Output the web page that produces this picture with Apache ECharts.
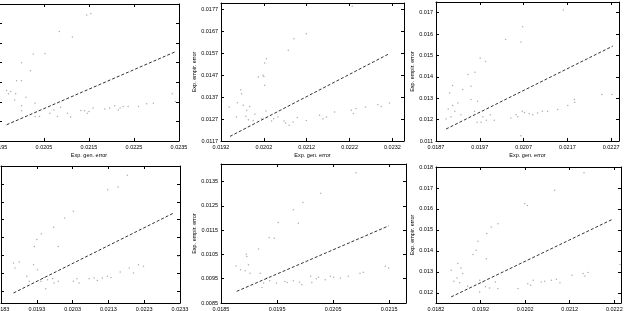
<!DOCTYPE html>
<html>
<head>
<meta charset="utf-8">
<script src="https://cdn.jsdelivr.net/npm/echarts@6/dist/echarts.min.js"></script>
<style>
html, body { margin: 0; padding: 0; background: #fff; }
#chart { width: 628px; height: 311px; }
</style>
</head>
<body>
<div id="chart"></div>
<script>
var xName = "Exp. gen. error";
var yName = "Exp. empir. error";

// panel 1 (top left)
var p1Points = [[0.02145,0.01744],[0.02154,0.01751],[0.02084,0.01659],[0.02113,0.01632],[0.02026,0.01544],[0.02052,0.01547],
  [0.0200,0.0150],[0.0202,0.01459],[0.01989,0.01408],[0.0200,0.01408],[0.01967,0.01358],[0.01976,0.01353],[0.01971,0.01341],
  [0.01987,0.01341],[0.0201,0.01324],[0.01985,0.0131],[0.0203,0.01293],[0.0200,0.0128],[0.0200,0.01254],[0.0203,0.01225],
  [0.0204,0.01225],[0.02063,0.01242],[0.02072,0.01259],[0.0208,0.01225],[0.02087,0.01273],[0.02102,0.01242],[0.02109,0.01222],
  [0.02132,0.01256],[0.0214,0.01254],[0.02146,0.01242],[0.0215,0.01251],[0.02159,0.01268],[0.02185,0.01263],[0.02196,0.01268],
  [0.02207,0.0128],[0.02215,0.01259],[0.02219,0.01268],[0.02226,0.01276],[0.02237,0.01276],[0.0226,0.01276],[0.02278,0.0129],
  [0.02293,0.01293],[0.02335,0.01341],[0.02342,0.01302]];
var p1Line = [[0.01967,0.01183],[0.02342,0.01556]];
var p1XTicks = [0.0195,0.0205,0.0215,0.0225,0.0235];
var p1YTicks = [0.011,0.012,0.013,0.014,0.015,0.016,0.017];

// panel 2 (top middle)
var p2Points = [[0.02226,0.01785],[0.02119,0.0166],[0.0209,0.01637],[0.02077,0.01584],[0.02026,0.01546],[0.02022,0.01526],
  [0.02018,0.0147],[0.02007,0.01462],[0.0202,0.01465],[0.02022,0.01424],[0.01966,0.01404],[0.01968,0.01386],[0.01958,0.01345],
  [0.01972,0.01333],[0.01939,0.01325],[0.01987,0.01328],[0.0198,0.0131],[0.01956,0.0128],[0.01978,0.01283],[0.01984,0.01267],
  [0.01999,0.01292],[0.02025,0.01307],[0.01995,0.01264],[0.02015,0.01272],[0.02026,0.01277],[0.02038,0.01261],[0.02043,0.01272],
  [0.02053,0.0128],[0.02067,0.01261],[0.02071,0.01252],[0.02079,0.01242],[0.02088,0.01257],[0.02098,0.01277],[0.02119,0.01264],
  [0.0215,0.01287],[0.02158,0.01272],[0.02166,0.0128],[0.02185,0.01302],[0.02224,0.0131],[0.02229,0.01295],[0.02235,0.01318],
  [0.02257,0.01325],[0.02286,0.01337],[0.02294,0.01328],[0.02313,0.01343]];
var p2Line = [[0.01941,0.01191],[0.02313,0.01569]];
var p2XTicks = [0.0192,0.0202,0.0212,0.0222,0.0232];
var p2YTicks = [0.0117,0.0127,0.0137,0.0147,0.0157,0.0167,0.0177];

// panel 3 (top right)
var p3Points = [[0.02161,0.01713],[0.02068,0.01634],[0.02064,0.01563],[0.02029,0.01575],[0.01971,0.01488],[0.01983,0.01472],
  [0.01959,0.01422],[0.01943,0.01411],[0.0195,0.01356],[0.01931,0.01341],[0.01908,0.01359],[0.01901,0.01325],[0.0192,0.01278],
  [0.01908,0.01266],[0.01913,0.01239],[0.01898,0.0125],[0.0195,0.01294],[0.01958,0.01239],[0.01965,0.01286],[0.01893,0.01203],
  [0.01904,0.01213],[0.01927,0.01223],[0.01964,0.01188],[0.01973,0.01188],[0.01977,0.01213],[0.01985,0.01197],[0.01994,0.01223],
  [0.02003,0.01197],[0.02041,0.01208],[0.02053,0.01223],[0.02057,0.01213],[0.02067,0.01239],[0.02072,0.01233],[0.02083,0.01228],
  [0.02091,0.01223],[0.02102,0.01231],[0.02113,0.01239],[0.02125,0.01239],[0.02148,0.01247],[0.02171,0.01266],[0.02186,0.01294],
  [0.02187,0.01281],[0.02249,0.01317],[0.02272,0.01317],[0.02064,0.01125]];
var p3Line = [[0.01893,0.01156],[0.02274,0.01544]];
var p3XTicks = [0.0187,0.0197,0.0207,0.0217,0.0227];
var p3YTicks = [0.011,0.012,0.013,0.014,0.015,0.016,0.017];

// panel 4 (bottom left)
var p4Points = [[0.02183,0.01748],[0.02157,0.01683],[0.02128,0.01668],[0.02032,0.01547],[0.02008,0.0151],[0.01977,0.01458],
  [0.01943,0.01422],[0.0193,0.01389],[0.01923,0.01351],[0.0199,0.01351],[0.01865,0.01258],[0.01881,0.01264],[0.01869,0.0123],
  [0.01921,0.01249],[0.01932,0.01221],[0.01902,0.01184],[0.01909,0.01156],[0.0195,0.01178],[0.0196,0.01165],[0.01941,0.01156],
  [0.01955,0.01115],[0.01974,0.01171],[0.0199,0.01156],[0.01978,0.01147],[0.02032,0.01156],[0.02042,0.01171],[0.02048,0.01147],
  [0.02076,0.01171],[0.0209,0.01174],[0.02099,0.0116],[0.02113,0.01174],[0.02127,0.01184],[0.02137,0.01178],[0.02163,0.01208],
  [0.02188,0.0123],[0.022,0.01202],[0.02214,0.01249],[0.02228,0.0124],[0.02325,0.01296]];
var p4Line = [[0.01865,0.01091],[0.02313,0.01538]];
var p4XTicks = [0.0183,0.0193,0.0203,0.0213,0.0223,0.0233];
var p4YTicks = [0.011,0.012,0.013,0.014,0.015,0.016,0.017];

// panel 5 (bottom middle)
var p5Points = [[0.02091,0.01387],[0.02028,0.01302],[0.01996,0.01264],[0.01979,0.01234],[0.01988,0.01179],[0.01952,0.01182],
  [0.01936,0.0112],[0.01945,0.01117],[0.01917,0.01073],[0.01895,0.01051],[0.01896,0.01042],[0.01877,0.01003],[0.01885,0.00987],
  [0.01893,0.00983],[0.01899,0.01008],[0.01902,0.00973],[0.0192,0.00973],[0.01926,0.00932],[0.01932,0.00953],[0.01923,0.00914],
  [0.01937,0.00942],[0.01949,0.00932],[0.01964,0.00939],[0.01968,0.00935],[0.01979,0.00942],[0.0199,0.00936],[0.01994,0.00925],
  [0.0201,0.0096],[0.02012,0.00935],[0.0202,0.0095],[0.02024,0.00956],[0.02036,0.00946],[0.02045,0.0096],[0.02051,0.00956],
  [0.02063,0.00953],[0.02077,0.0096],[0.02098,0.00973],[0.02104,0.00977],[0.02143,0.01001],[0.02149,0.00994]];
var p5Line = [[0.01878,0.00898],[0.02149,0.01168]];
var p5XTicks = [0.0185,0.0195,0.0205,0.0215];
var p5YTicks = [0.0085,0.0095,0.0105,0.0115,0.0125,0.0135];

// panel 6 (bottom right)
var p6Points = [[0.02152,0.01773],[0.02086,0.01689],[0.02019,0.01625],[0.02025,0.01617],[0.01959,0.0153],[0.01944,0.01514],
  [0.01934,0.01483],[0.01914,0.01446],[0.0191,0.01403],[0.01903,0.01383],[0.01933,0.01363],[0.01854,0.01308],[0.01869,0.0134],
  [0.01876,0.01319],[0.0188,0.01292],[0.01867,0.01271],[0.0186,0.01256],[0.01873,0.01248],[0.01891,0.01233],[0.01918,0.0126],
  [0.01925,0.01252],[0.01931,0.01229],[0.0194,0.01224],[0.01953,0.01252],[0.01959,0.01221],[0.01918,0.01205],[0.02004,0.01221],
  [0.02026,0.01244],[0.02032,0.01237],[0.02038,0.0126],[0.02056,0.01252],[0.02064,0.01256],[0.02079,0.0126],[0.0209,0.01265],
  [0.02098,0.01249],[0.02125,0.01284],[0.0215,0.01292],[0.02154,0.01281],[0.02161,0.01297],[0.02233,0.01335]];
var p6Line = [[0.01854,0.01181],[0.02214,0.01549]];
var p6XTicks = [0.0182,0.0192,0.0202,0.0212,0.0222];
var p6YTicks = [0.012,0.013,0.014,0.015,0.016,0.017,0.018];

var panels = [
  { pts: p1Points, line: p1Line, xt: p1XTicks, yt: p1YTicks, xr: [0.0195, 0.0235], yr: [0.011, 0.018], xd: 4, yd: 3,
    box: { left: -1, top: 4, width: 180, height: 137 }, gap: 19 },
  { pts: p2Points, line: p2Line, xt: p2XTicks, yt: p2YTicks, xr: [0.0192, 0.02347], yr: [0.0117, 0.0180], xd: 4, yd: 4,
    box: { left: 221, top: 3, width: 183, height: 138 }, gap: 19 },
  { pts: p3Points, line: p3Line, xt: p3XTicks, yt: p3YTicks, xr: [0.0187, 0.02288], yr: [0.011, 0.0175], xd: 4, yd: 3,
    box: { left: 436, top: 2, width: 183, height: 139 }, gap: 16 },
  { pts: p4Points, line: p4Line, xt: p4XTicks, yt: p4YTicks, xr: [0.0183, 0.0233], yr: [0.01035, 0.0180], xd: 4, yd: 3,
    box: { left: 1, top: 166, width: 179, height: 137 }, gap: 19 },
  { pts: p5Points, line: p5Line, xt: p5XTicks, yt: p5YTicks, xr: [0.0185, 0.0218], yr: [0.0085, 0.01423], xd: 4, yd: 4,
    box: { left: 221, top: 164, width: 185, height: 139 }, gap: 19 },
  { pts: p6Points, line: p6Line, xt: p6XTicks, yt: p6YTicks, xr: [0.0182, 0.02235], yr: [0.01152, 0.0180], xd: 4, yd: 3,
    box: { left: 436, top: 167, width: 185, height: 136 }, gap: 16 }
];

var font = "Liberation Sans";
var grids = [], xAxes = [], yAxes = [], series = [];

function makeAxis(p, isX, bottomOrLeft, gridIndex) {
  var ticks = isX ? p.xt : p.yt;
  var dec = isX ? p.xd : p.yd;
  var ax = {
    type: "value",
    gridIndex: gridIndex,
    position: isX ? (bottomOrLeft ? "bottom" : "top") : (bottomOrLeft ? "left" : "right"),
    min: isX ? p.xr[0] : p.yr[0],
    max: isX ? p.xr[1] : p.yr[1],
    axisLine: { show: true, onZero: false, lineStyle: { color: "#000", width: 1 } },
    axisTick: { show: true, inside: true, length: 3, customValues: ticks, lineStyle: { color: "#000" } },
    axisLabel: {
      show: bottomOrLeft,
      customValues: ticks,
      margin: 3,
      fontSize: 5.5,
      fontFamily: font,
      color: "#000",
      formatter: function (v) { return v.toFixed(dec); }
    },
    splitLine: { show: false }
  };
  if (bottomOrLeft) {
    ax.name = isX ? xName : yName;
    ax.nameLocation = "middle";
    ax.nameGap = isX ? 11 : p.gap;
    ax.nameTextStyle = { fontSize: 5.5, fontFamily: font, color: "#000" };
  }
  return ax;
}

panels.forEach(function (p, i) {
  grids.push(Object.assign({ show: false, outerBoundsMode: "none", containLabel: false }, p.box));
  xAxes.push(makeAxis(p, true, true, i));
  xAxes.push(makeAxis(p, true, false, i));
  yAxes.push(makeAxis(p, false, true, i));
  yAxes.push(makeAxis(p, false, false, i));
  series.push({
    type: "scatter",
    xAxisIndex: 2 * i,
    yAxisIndex: 2 * i,
    data: p.pts,
    symbolSize: 1.5,
    itemStyle: { color: "#999" },
    silent: true
  });
  series.push({
    type: "line",
    xAxisIndex: 2 * i,
    yAxisIndex: 2 * i,
    data: p.line,
    symbol: "none",
    lineStyle: { color: "#333", width: 1, type: [3, 2] },
    silent: true
  });
});

var myChart = echarts.init(document.getElementById("chart"), null, { renderer: "canvas" });
myChart.setOption({
  animation: false,
  backgroundColor: "#fff",
  grid: grids,
  xAxis: xAxes,
  yAxis: yAxes,
  series: series
});
</script>
</body>
</html>
